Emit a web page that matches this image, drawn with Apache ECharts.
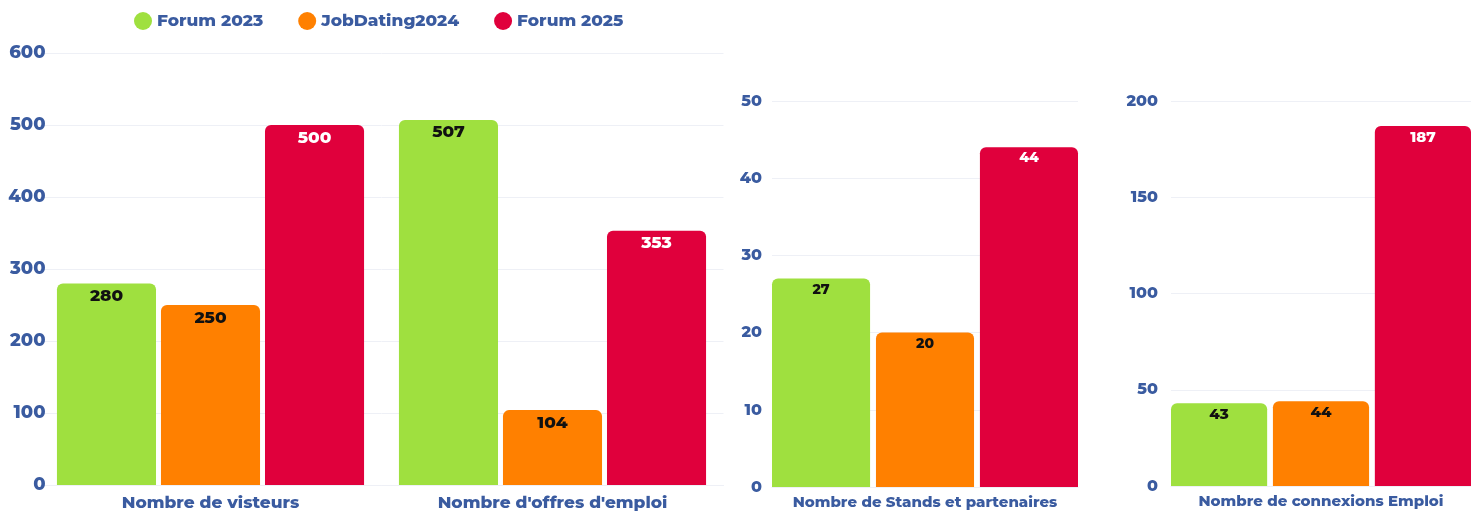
<!DOCTYPE html>
<html>
<head>
<meta charset="utf-8">
<script src="https://cdn.jsdelivr.net/npm/echarts@6/dist/echarts.min.js"></script>
<style>
  html, body { margin: 0; padding: 0; background: #fff; }
  #main { width: 1471px; height: 511px; }
</style>
</head>
<body>
<div id="main"></div>
<script>
// Données
const seriesNames = ["Forum 2023", "JobDating2024", "Forum 2025"];

const panel1Categories = ["Nombre de visteurs", "Nombre d'offres d'emploi"];
const panel1Forum2023 = [280, 507];
const panel1JobDating2024 = [250, 104];
const panel1Forum2025 = [500, 353];
const panel1Ticks = { min: 0, max: 600, interval: 100 };

const panel2Categories = ["Nombre de Stands et partenaires"];
const panel2Forum2023 = [27];
const panel2JobDating2024 = [20];
const panel2Forum2025 = [44];
const panel2Ticks = { min: 0, max: 50, interval: 10 };

const panel3Categories = ["Nombre de connexions Emploi"];
const panel3Forum2023 = [43];
const panel3JobDating2024 = [44];
const panel3Forum2025 = [187];
const panel3Ticks = { min: 0, max: 200, interval: 50 };

let colors = {
  "Forum 2023": "#9fe03f",
  "JobDating2024": "#ff8000",
  "Forum 2025": "#e0003c",
  axis: "#3a5ba0",
  split: "#eef0f6",
};
let labelColors = {
  "Forum 2023": "#111",
  "JobDating2024": "#111",
  "Forum 2025": "#fff",
};

let font = "Montserrat, 'DejaVu Sans', sans-serif";

let myChart = echarts.init(document.getElementById("main"));

// Axes
let makeX = (gridIndex, data, fontSize, margin) => ({
  type: "category",
  gridIndex: gridIndex,
  data: data,
  axisTick: { show: false },
  axisLine: { show: true, lineStyle: { color: colors.split } },
  axisLabel: {
    color: colors.axis,
    fontWeight: 800,
    fontSize: fontSize,
    fontFamily: font,
    margin: margin,
  },
});
let makeY = (gridIndex, ticks, fontSize, margin) => ({
  type: "value",
  gridIndex: gridIndex,
  min: ticks.min,
  max: ticks.max,
  interval: ticks.interval,
  axisLine: { show: false },
  axisTick: { show: false },
  splitLine: { lineStyle: { color: colors.split } },
  axisLabel: {
    color: colors.axis,
    fontWeight: 800,
    fontSize: fontSize,
    fontFamily: font,
    margin: margin,
  },
});

let makeSeries = (name, data, index, fontSize, gap, catGap) => ({
  name: name,
  type: "bar",
  xAxisIndex: index,
  yAxisIndex: index,
  data: data,
  barGap: gap,
  barCategoryGap: catGap,
  itemStyle: { color: colors[name], borderRadius: [6, 6, 0, 0] },
  label: {
    show: true,
    position: "insideTop",
    distance: 4,
    color: labelColors[name],
    fontWeight: 800,
    fontSize: fontSize,
    fontFamily: font,
  },
});

let panel1 = [panel1Forum2023, panel1JobDating2024, panel1Forum2025];
let panel2 = [panel2Forum2023, panel2JobDating2024, panel2Forum2025];
let panel3 = [panel3Forum2023, panel3JobDating2024, panel3Forum2025];

let option = {
  animation: false,
  backgroundColor: "#fff",
  textStyle: { fontFamily: font },
  legend: {
    top: 7,
    left: 129,
    itemGap: 35,
    icon: "circle",
    itemWidth: 18,
    itemHeight: 18,
    data: seriesNames,
    textStyle: {
      color: colors.axis,
      fontWeight: 800,
      fontSize: 17,
      fontFamily: font,
    },
  },
  grid: [
    { left: 39.5, width: 684, top: 53, bottom: 25 },
    { left: 772, width: 306, top: 101, bottom: 24 },
    { left: 1171, width: 306, top: 101, bottom: 25 },
  ],
  xAxis: [
    makeX(0, panel1Categories, 17, 9),
    makeX(1, panel2Categories, 15, 8),
    makeX(2, panel3Categories, 15, 8),
  ],
  yAxis: [
    makeY(0, panel1Ticks, 18, -6),
    makeY(1, panel2Ticks, 16, 10),
    makeY(2, panel3Ticks, 16, 13),
  ],
  series: [
    ...seriesNames.map((n, i) => makeSeries(n, panel1[i], 0, 17, "5%", "10.2%")),
    ...seriesNames.map((n, i) => makeSeries(n, panel2[i], 1, 14, "6%", "0%")),
    ...seriesNames.map((n, i) => makeSeries(n, panel3[i], 2, 15, "6%", "0%")),
  ],
};

myChart.setOption(option);
window.addEventListener("resize", function () {
  myChart.resize();
});
</script>
</body>
</html>
